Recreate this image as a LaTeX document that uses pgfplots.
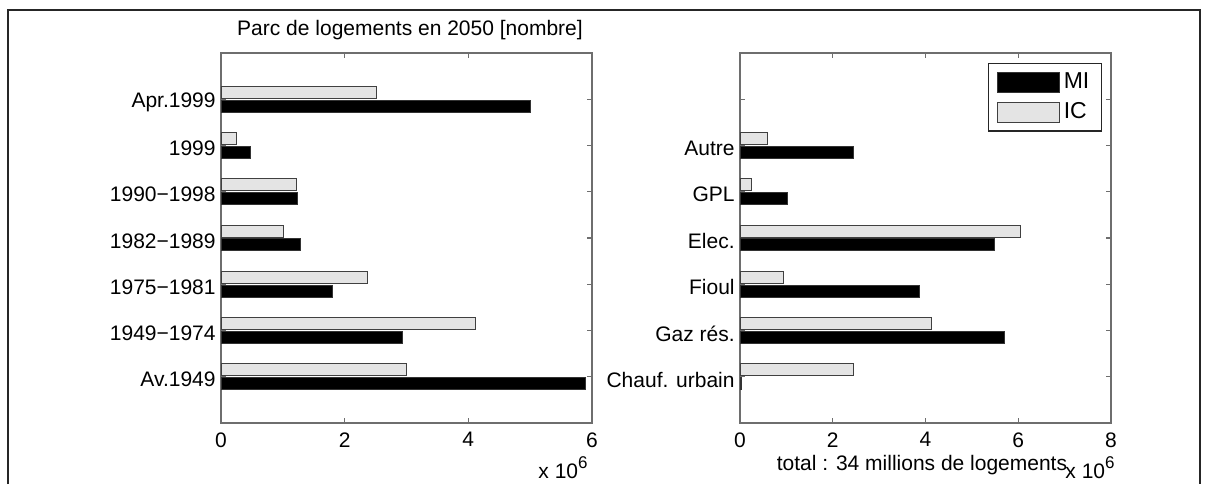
\documentclass[border=0pt]{standalone}
\usepackage{pgfplots}
\pgfplotsset{compat=1.18}
\usepackage{fontspec}
\setmainfont{Liberation Sans}
\definecolor{icgray}{HTML}{E4E4E4}
\definecolor{axgray}{HTML}{6E6E6E}
\begin{document}
\fontsize{10.5}{12.6}\selectfont
\begin{tikzpicture}
\path[use as bounding box] (0pt,0pt) rectangle (604.5pt,242pt);
\draw[black!85, line width=0.8pt] (4pt,0pt) -- (4pt,237pt) -- (600pt,237pt) -- (600pt,0pt);
\pgfplotsset{
  mybars/.style={
    scale only axis, width=185.5pt, height=185pt,
    xbar, bar width=6pt,
    ymin=0, ymax=8, xmin=0,
    ytick={1,...,7},
    tick align=inside, major tick length=2.5pt,
    axis line style={axgray, line width=0.8pt},
    tick style={axgray, line width=0.6pt},
    /pgf/number format/assume math mode=true,
    tick label style={font=\fontsize{10.5}{12.6}\selectfont},
    xticklabel style={yshift=-1pt},
    yticklabel style={xshift=1pt, yshift=-1.5pt},
  },
  mi/.style={fill=black, draw=black!80, line width=0.5pt, bar shift=-3.4pt},
  ic/.style={fill=icgray, draw=black!75, line width=0.5pt, bar shift=3.4pt},
}
\begin{axis}[mybars, at={(110.5pt,30.5pt)}, anchor=south west,
  xmax=6, xtick={0,2,4,6},
  yticklabels={Av.1949,1949−1974,1975−1981,1982−1989,1990−1998,1999,Apr.1999}]
\addplot[mi] coordinates {(5.9,1) (2.93,2) (1.81,3) (1.29,4) (1.24,5) (0.47,6) (5.01,7)};
\addplot[ic] coordinates {(3.0,1) (4.12,2) (2.37,3) (1.01,4) (1.22,5) (0.25,6) (2.51,7)};
\end{axis}
\begin{axis}[mybars, at={(370pt,30.5pt)}, anchor=south west,
  xmax=8, xtick={0,2,4,6,8},
  yticklabels={Chauf. urbain,Gaz rés.,Fioul,Elec.,GPL,Autre,{}},
  legend style={at={(1,1)}, anchor=north east, xshift=-4.5pt, yshift=-5pt,
    draw=black!85, line width=0.7pt, font=\fontsize{11.5}{13}\selectfont,
    row sep=1.5pt, inner xsep=4pt, inner ysep=2.5pt, cells={anchor=west}},
  legend image code/.code={\draw[#1] (0pt,-5pt) rectangle (31pt,5pt);}]
\addplot[mi] coordinates {(0.03,1) (5.71,2) (3.88,3) (5.48,4) (1.03,5) (2.45,6)};
\addplot[ic] coordinates {(2.44,1) (4.12,2) (0.93,3) (6.05,4) (0.25,5) (0.6,6)};
\legend{MI,IC}
\end{axis}
\node at (205pt,227pt) {Parc de logements en 2050 [nombre]};
\node[anchor=base east] at (297.5pt,3pt) {x 10\raisebox{0.9ex}{\fontsize{8.5}{9}\selectfont 6}};
\node[anchor=base east] at (561pt,3pt) {x 10\raisebox{0.9ex}{\fontsize{8.5}{9}\selectfont 6}};
\node[anchor=base] at (461pt,7pt) {total : 34 millions de logements};
\end{tikzpicture}
\end{document}
